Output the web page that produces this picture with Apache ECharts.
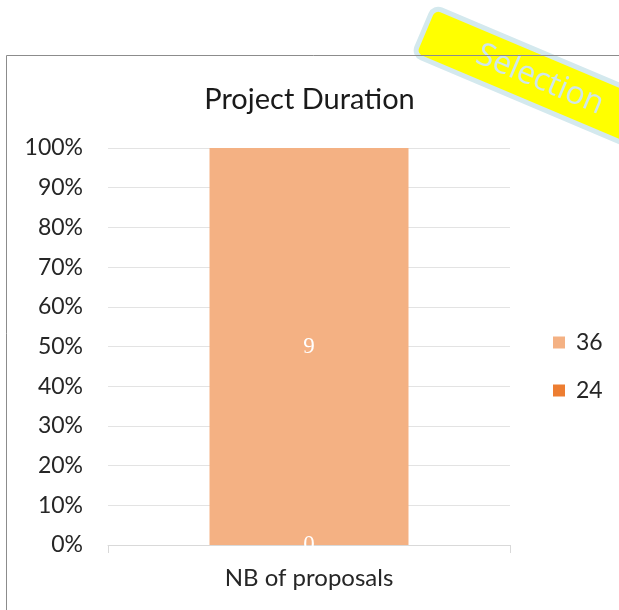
<!DOCTYPE html>
<html>
<head>
<meta charset="utf-8">
<script src="https://cdn.jsdelivr.net/npm/echarts@6/dist/echarts.min.js"></script>
<style>html,body{margin:0;padding:0;background:#fff}#c{width:619px;height:610px}</style>
</head>
<body>
<div id="c"></div>
<script>
const categories = ['NB of proposals'];
const seriesNames = ['24', '36'];
const values24 = [0];
const values36 = [9];
const yTicks = [0, 10, 20, 30, 40, 50, 60, 70, 80, 90, 100];

const totals = categories.map((_, i) => values24[i] + values36[i]);
const pct = (arr) => arr.map((v, i) => totals[i] ? v / totals[i] * 100 : 0);
const FONT = 'Lato';

const chart = echarts.init(document.getElementById('c'));
chart.setOption({
  animation: false,
  title: {
    text: 'Project Duration', left: 'center', top: 80,
    textStyle: { fontFamily: FONT, fontSize: 29, fontWeight: 'normal', color: '#1a1a1a' }
  },
  legend: {
    orient: 'vertical', left: 548, top: 326,
    data: ['36', '24'], itemWidth: 12, itemHeight: 12, itemGap: 25,
    icon: 'rect',
    textStyle: { fontFamily: FONT, fontSize: 23, color: '#262626', padding: [0, 0, 0, 6] }
  },
  grid: { left: 108, right: 109, top: 148, bottom: 65 },
  xAxis: {
    type: 'category', data: categories,
    axisLine: { lineStyle: { color: '#d9d9d9', width: 1 } },
    axisTick: { show: true, length: 8, lineStyle: { color: '#d9d9d9' } },
    axisLabel: { fontFamily: FONT, fontSize: 24, color: '#262626', margin: 21 }
  },
  yAxis: {
    type: 'value', min: yTicks[0], max: yTicks[yTicks.length - 1], interval: 10,
    axisLine: { show: false }, axisTick: { show: false },
    splitLine: { lineStyle: { color: '#e3e3e3', width: 1 } },
    axisLabel: { formatter: '{value}%', fontFamily: FONT, fontSize: 23, color: '#262626', margin: 25 }
  },
  series: [
    {
      name: '24', type: 'bar', stack: 'a', barWidth: '49.5%', z: 2,
      data: pct(values24),
      itemStyle: { color: '#ed7d31' },
      label: { show: true, position: 'inside', formatter: (p) => String(values24[p.dataIndex]),
        fontFamily: 'Liberation Serif', fontSize: 23, color: '#fff' }
    },
    {
      name: '36', type: 'bar', stack: 'a', barWidth: '49.5%',
      data: pct(values36),
      itemStyle: { color: '#f4b183' },
      label: { show: true, position: 'inside', formatter: (p) => String(values36[p.dataIndex]),
        fontFamily: 'Liberation Serif', fontSize: 23, color: '#fff' }
    }
  ],
  graphic: [
    { type: 'rect', z: 10, shape: { x: 200, y: 546, width: 220, height: 14 }, style: { fill: '#fff' } },
    { type: 'rect', z: 11, shape: { x: 6.5, y: 55.5, width: 800, height: 800 }, style: { fill: 'none', stroke: '#8c8c8c', lineWidth: 1 } },
    {
      type: 'group', x: 538, y: 79, rotation: -0.40, z: 20,
      children: [
        { type: 'rect', shape: { x: -124, y: -26, width: 270, height: 52, r: 8 },
          style: { fill: '#ffff00', stroke: '#d4e9ee', lineWidth: 5 } },
        { type: 'text', x: 2, y: 0, style: { text: 'Selection', fontFamily: 'Open Sans', fontSize: 32,
          fill: '#cfe6ec', align: 'center', verticalAlign: 'middle' } }
      ]
    }
  ]
});
</script>
</body>
</html>
